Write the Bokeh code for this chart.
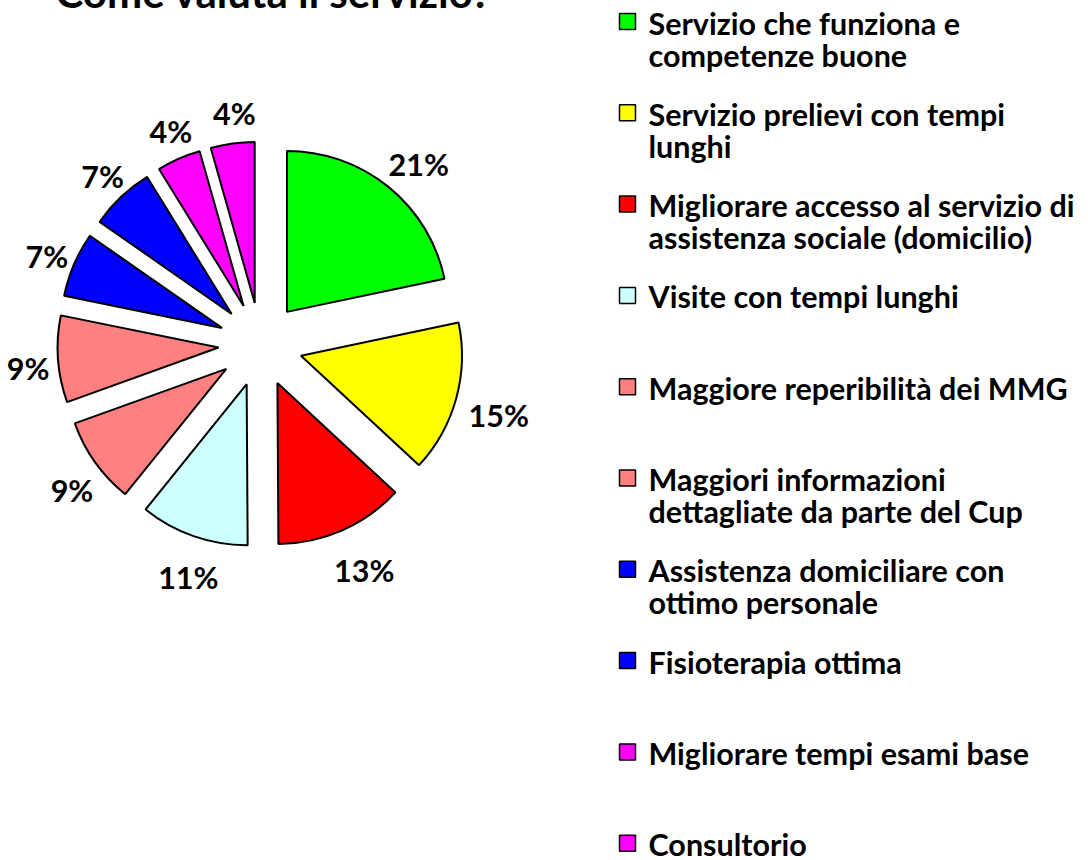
import math
from bokeh.plotting import figure
from bokeh.models import Range1d, ColumnDataSource
from bokeh.core.properties import value
from bokeh.embed import file_html
from bokeh.resources import INLINE

# ---- data ----
title = "Come valuta il servizio?"
categories = [
    "Servizio che funziona e\ncompetenze buone",
    "Servizio prelievi con tempi\nlunghi",
    "Migliorare accesso al servizio di\nassistenza sociale (domicilio)",
    "Visite con tempi lunghi",
    "Maggiore reperibilità dei MMG",
    "Maggiori informazioni\ndettagliate da parte del Cup",
    "Assistenza domiciliare con\nottimo personale",
    "Fisioterapia ottima",
    "Migliorare tempi esami base",
    "Consultorio",
]
shares = [21.7, 15.2, 13.0, 10.9, 8.7, 8.7, 6.5, 6.5, 4.4, 4.4]
pct_labels = ["21%", "15%", "13%", "11%", "9%", "9%", "7%", "7%", "4%", "4%"]
colors = ["#00FF00", "#FFFF00", "#FF0000", "#CCFFFF", "#FF8080",
          "#FF8080", "#0000FF", "#0000FF", "#FF00FF", "#FF00FF"]

# ---- geometry (page pixels) ----
SHIFT = 4          # the figure's top-left corner sits at (-4, -4) on the page
W, H = 1080, 864
FONT = "Lato"
FS = "30.5px"

def Y(sy):
    return H - SHIFT - sy

cx, cy = 260, Y(344)
explode = 42
radius = 161
lab_cx, lab_cy, lab_r = 267, Y(350), 240

total = sum(shares)
wx, wy, sa, ea, lx, ly = [], [], [], [], [], []
cum = 0
for s in shares:
    a0 = math.radians(90 - 360 * cum / total)
    cum += s
    a1 = math.radians(90 - 360 * cum / total)
    mid = (a0 + a1) / 2
    wx.append(cx + explode * math.cos(mid))
    wy.append(cy + explode * math.sin(mid))
    sa.append(a1)
    ea.append(a0)
    lx.append(lab_cx + lab_r * math.cos(mid))
    ly.append(lab_cy + lab_r * math.sin(mid))

p = figure(width=W, height=H, x_range=Range1d(-SHIFT, W - SHIFT),
           y_range=Range1d(0, H),
           output_backend="svg", toolbar_location=None, min_border=0)
p.margin = (-SHIFT, 0, -SHIFT, -SHIFT)
p.axis.visible = False
p.grid.visible = False
p.outline_line_color = None
p.background_fill_color = "white"
p.border_fill_color = "white"

src = ColumnDataSource(dict(x=wx, y=wy, sa=sa, ea=ea, color=colors))
p.wedge(x="x", y="y", radius=radius, start_angle="sa", end_angle="ea",
        fill_color="color", line_color="black", line_width=2, source=src)

p.text(x=lx, y=ly, text=pct_labels, text_font=value(FONT), text_font_style="bold",
       text_font_size=FS, text_align="center", text_baseline="middle",
       text_color="black")

# title (mostly above the top edge, as in the reference)
p.text(x=[55], y=[Y(6)], text=[title], text_font=value(FONT),
       text_font_style="bold", text_font_size="42px", text_align="left",
       text_baseline="middle", y_offset=-15, text_color="black")

# legend
pitch = 91.3
sq_x, sq_y, tx, ty, tt = [], [], [], [], []
for i, cat in enumerate(categories):
    c_sy = 21 + pitch * i
    sq_x.append(627)
    sq_y.append(Y(c_sy))
    for j, line in enumerate(cat.split("\n")):
        tx.append(648)
        ty.append(Y(c_sy + 1 + 32 * j))
        tt.append(line)

p.rect(x=sq_x, y=sq_y, width=16, height=16, fill_color=colors,
       line_color="black", line_width=1.5)
p.text(x=tx, y=ty, text=tt, text_font=value(FONT), text_font_style="bold",
       text_font_size=FS, text_align="left", text_baseline="middle",
       text_color="black")

open("out.html", "w").write(file_html(p, INLINE))
